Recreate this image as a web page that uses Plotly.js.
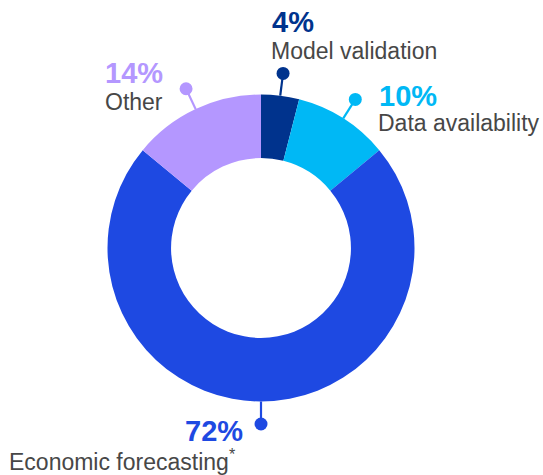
<!DOCTYPE html>
<html>
<head>
<meta charset="utf-8">
<script src="https://cdn.plot.ly/plotly-3.0.1.min.js"></script>
<style>html,body{margin:0;padding:0;background:#fff;}#chart{width:543px;height:475px;}</style>
</head>
<body>
<div id="chart"></div>
<script>
// Data
var categories = ["Model validation", "Data availability", "Economic forecasting", "Other"];
var values = [4, 10, 72, 14];
var percentLabels = ["4%", "10%", "72%", "14%"];
var nameLabels = ["Model validation", "Data availability", "Economic forecasting<sup>*</sup>", "Other"];
var colors = ["#00338D", "#00B8F5", "#1E49E2", "#B497FF"];

// Layout geometry
var W = 543, H = 475;
var CX = 261, CY = 248, R = 153.5, HOLE = 0.586;
var DOT_R = 176, DOT_SIZE = 6.5;

// label placements (pixel): [x, y, xanchor] for percent text and name text
var pctPos = [[271, 21.5, "left"], [378, 95.5, "left"], [244, 431, "right"], [104, 72.5, "left"]];
var namePos = [[270, 50.5, "left"], [377, 123, "left"], [8, 460, "left"], [104, 102, "left"]];

function px(x) { return x / W; }
function py(y) { return 1 - y / H; }

var total = values.reduce(function (a, b) { return a + b; }, 0);
var shapes = [];
var annotations = [];
var cum = 0;
for (var i = 0; i < values.length; i++) {
  var mid = (cum + values[i] / 2) / total * 2 * Math.PI;
  cum += values[i];
  var sx = CX + R * Math.sin(mid), sy = CY - R * Math.cos(mid);
  var ex = CX + DOT_R * Math.sin(mid), ey = CY - DOT_R * Math.cos(mid);
  shapes.push({type: "line", xref: "paper", yref: "paper",
    x0: px(sx), y0: py(sy), x1: px(ex), y1: py(ey),
    line: {color: colors[i], width: 2.2}});
  shapes.push({type: "circle", xref: "paper", yref: "paper",
    x0: px(ex - DOT_SIZE), x1: px(ex + DOT_SIZE), y0: py(ey + DOT_SIZE), y1: py(ey - DOT_SIZE),
    fillcolor: colors[i], line: {width: 0}});
  annotations.push({xref: "paper", yref: "paper", x: px(pctPos[i][0]), y: py(pctPos[i][1]),
    xanchor: pctPos[i][2], yanchor: "middle", showarrow: false, borderpad: 0,
    text: "<b>" + percentLabels[i] + "</b>",
    font: {family: "Liberation Sans, Arial, sans-serif", size: 29, color: colors[i]}});
  annotations.push({xref: "paper", yref: "paper", x: px(namePos[i][0]), y: py(namePos[i][1]),
    xanchor: namePos[i][2], yanchor: "middle", showarrow: false, borderpad: 0,
    text: nameLabels[i],
    font: {family: "Liberation Sans, Arial, sans-serif", size: 23, color: "#474747"}});
}

var trace = {
  type: "pie",
  labels: categories,
  values: values,
  sort: false,
  direction: "clockwise",
  rotation: 0,
  hole: HOLE,
  textinfo: "none",
  hoverinfo: "skip",
  showlegend: false,
  marker: {colors: colors, line: {width: 0}},
  domain: {x: [px(CX - R), px(CX + R)], y: [py(CY + R), py(CY - R)]}
};

var layout = {
  width: W, height: H,
  margin: {l: 0, r: 0, t: 0, b: 0},
  paper_bgcolor: "#ffffff",
  plot_bgcolor: "#ffffff",
  showlegend: false,
  shapes: shapes,
  annotations: annotations
};

Plotly.newPlot("chart", [trace], layout, {staticPlot: true, displayModeBar: false});
</script>
</body>
</html>
